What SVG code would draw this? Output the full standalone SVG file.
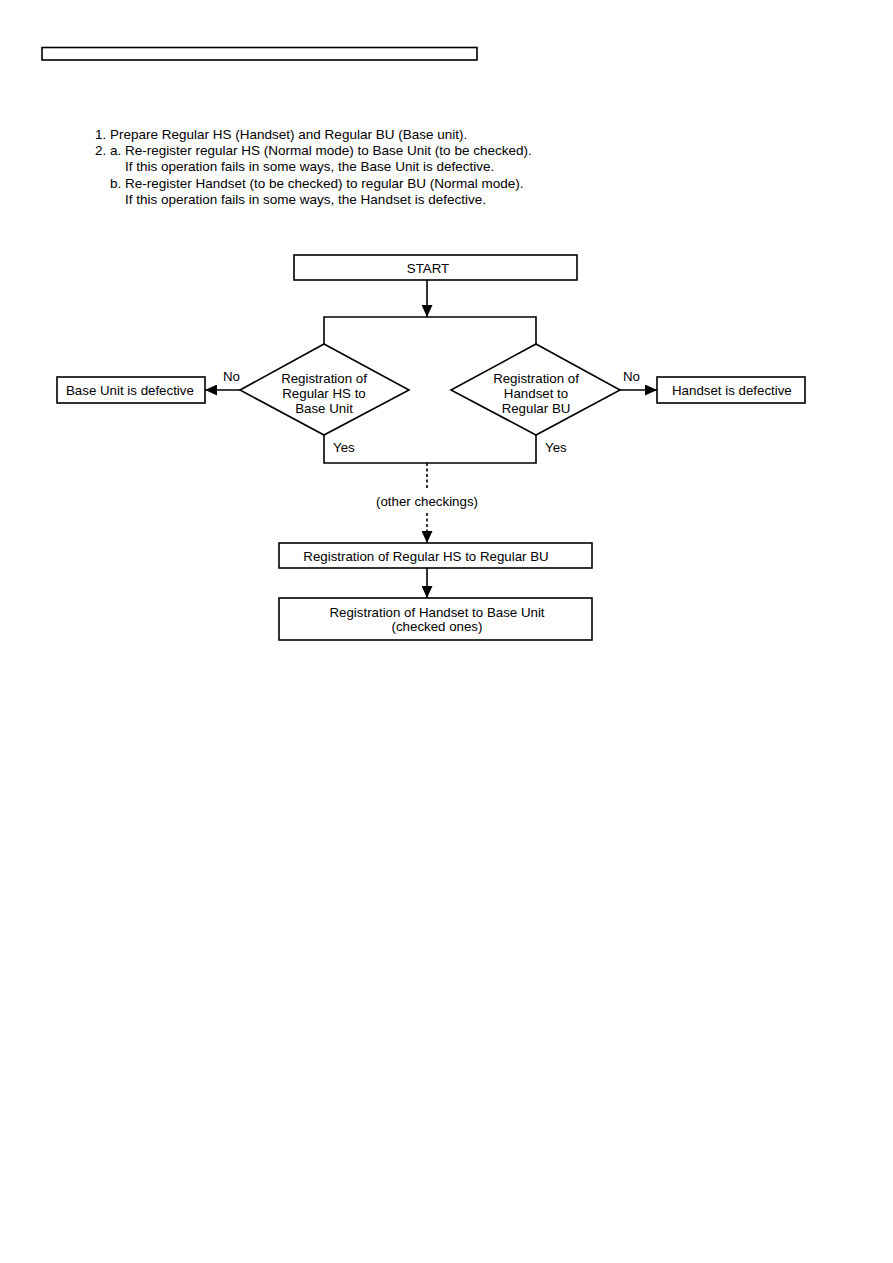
<svg xmlns="http://www.w3.org/2000/svg" width="893" height="1263" viewBox="0 0 893 1263">
<defs>
<style>
text{font-family:"Liberation Sans",Arial,sans-serif;font-size:13.3px;fill:#000}
.i{font-size:13.5px}
.c{text-anchor:middle}
.box{fill:#fff;stroke:#000;stroke-width:1.6}
.ln{fill:none;stroke:#000;stroke-width:1.6}
.dot{fill:none;stroke:#000;stroke-width:1.6;stroke-dasharray:3 2.5}
</style>
<marker id="ah" viewBox="0 0 12 11" refX="12" refY="5.5" markerWidth="12" markerHeight="11" markerUnits="userSpaceOnUse" orient="auto">
<path d="M0,0 L12,5.5 L0,11 Z" fill="#000"/>
</marker>
</defs>
<rect width="893" height="1263" fill="#fff"/>
<rect x="42" y="47.5" width="435" height="12.5" fill="none" stroke="#000" stroke-width="1.6"/>
<g id="instructions">
<text class="i" x="95" y="139">1. Prepare Regular HS (Handset) and Regular BU (Base unit).</text>
<text class="i" x="95" y="155">2. a. Re-register regular HS (Normal mode) to Base Unit (to be checked).</text>
<text class="i" x="125" y="171">If this operation fails in some ways, the Base Unit is defective.</text>
<text class="i" x="110" y="188">b. Re-register Handset (to be checked) to regular BU (Normal mode).</text>
<text class="i" x="125" y="204">If this operation fails in some ways, the Handset is defective.</text>
</g>
<g id="connectors">
<line class="ln" x1="427" y1="280" x2="427" y2="317" marker-end="url(#ah)"/>
<polyline class="ln" points="324,344 324,317 536,317 536,344"/>
<line class="ln" x1="240" y1="390" x2="205" y2="390" marker-end="url(#ah)"/>
<line class="ln" x1="620" y1="390" x2="657" y2="390" marker-end="url(#ah)"/>
<polyline class="ln" points="324,435 324,463 536,463 536,435"/>
<line class="dot" x1="427" y1="463" x2="427" y2="490"/>
<line class="dot" x1="427" y1="513" x2="427" y2="543" marker-end="url(#ah)"/>
<line class="ln" x1="427" y1="568" x2="427" y2="598" marker-end="url(#ah)"/>
<text x="223" y="381">No</text>
<text x="623" y="381">No</text>
<text x="333" y="452">Yes</text>
<text x="545" y="452">Yes</text>
<text class="c" x="427" y="506">(other checkings)</text>
</g>
<g id="start">
<rect class="box" x="294" y="255" width="283" height="25"/>
<text class="c" x="428" y="273">START</text>
</g>
<g id="decision-hs-bu">
<polygon class="box" points="324,344 409,390 324,435 240,390"/>
<text class="c" x="324" y="383">Registration of</text>
<text class="c" x="324" y="398">Regular HS to</text>
<text class="c" x="324" y="413">Base Unit</text>
</g>
<g id="decision-handset">
<polygon class="box" points="536,344 620,390 536,435 451,390"/>
<text class="c" x="536" y="383">Registration of</text>
<text class="c" x="536" y="398">Handset to</text>
<text class="c" x="536" y="413">Regular BU</text>
</g>
<g id="base-defective">
<rect class="box" x="57" y="377" width="148" height="26"/>
<text x="66" y="395">Base Unit is defective</text>
</g>
<g id="handset-defective">
<rect class="box" x="657" y="377" width="148" height="26"/>
<text x="672" y="395">Handset is defective</text>
</g>
<g id="reg-regular">
<rect class="box" x="279" y="543" width="313" height="25"/>
<text class="c" x="426" y="561">Registration of Regular HS to Regular BU</text>
</g>
<g id="reg-checked">
<rect class="box" x="279" y="598" width="313" height="42"/>
<text class="c" x="437" y="617">Registration of Handset to Base Unit</text>
<text class="c" x="437" y="631">(checked ones)</text>
</g>
</svg>
